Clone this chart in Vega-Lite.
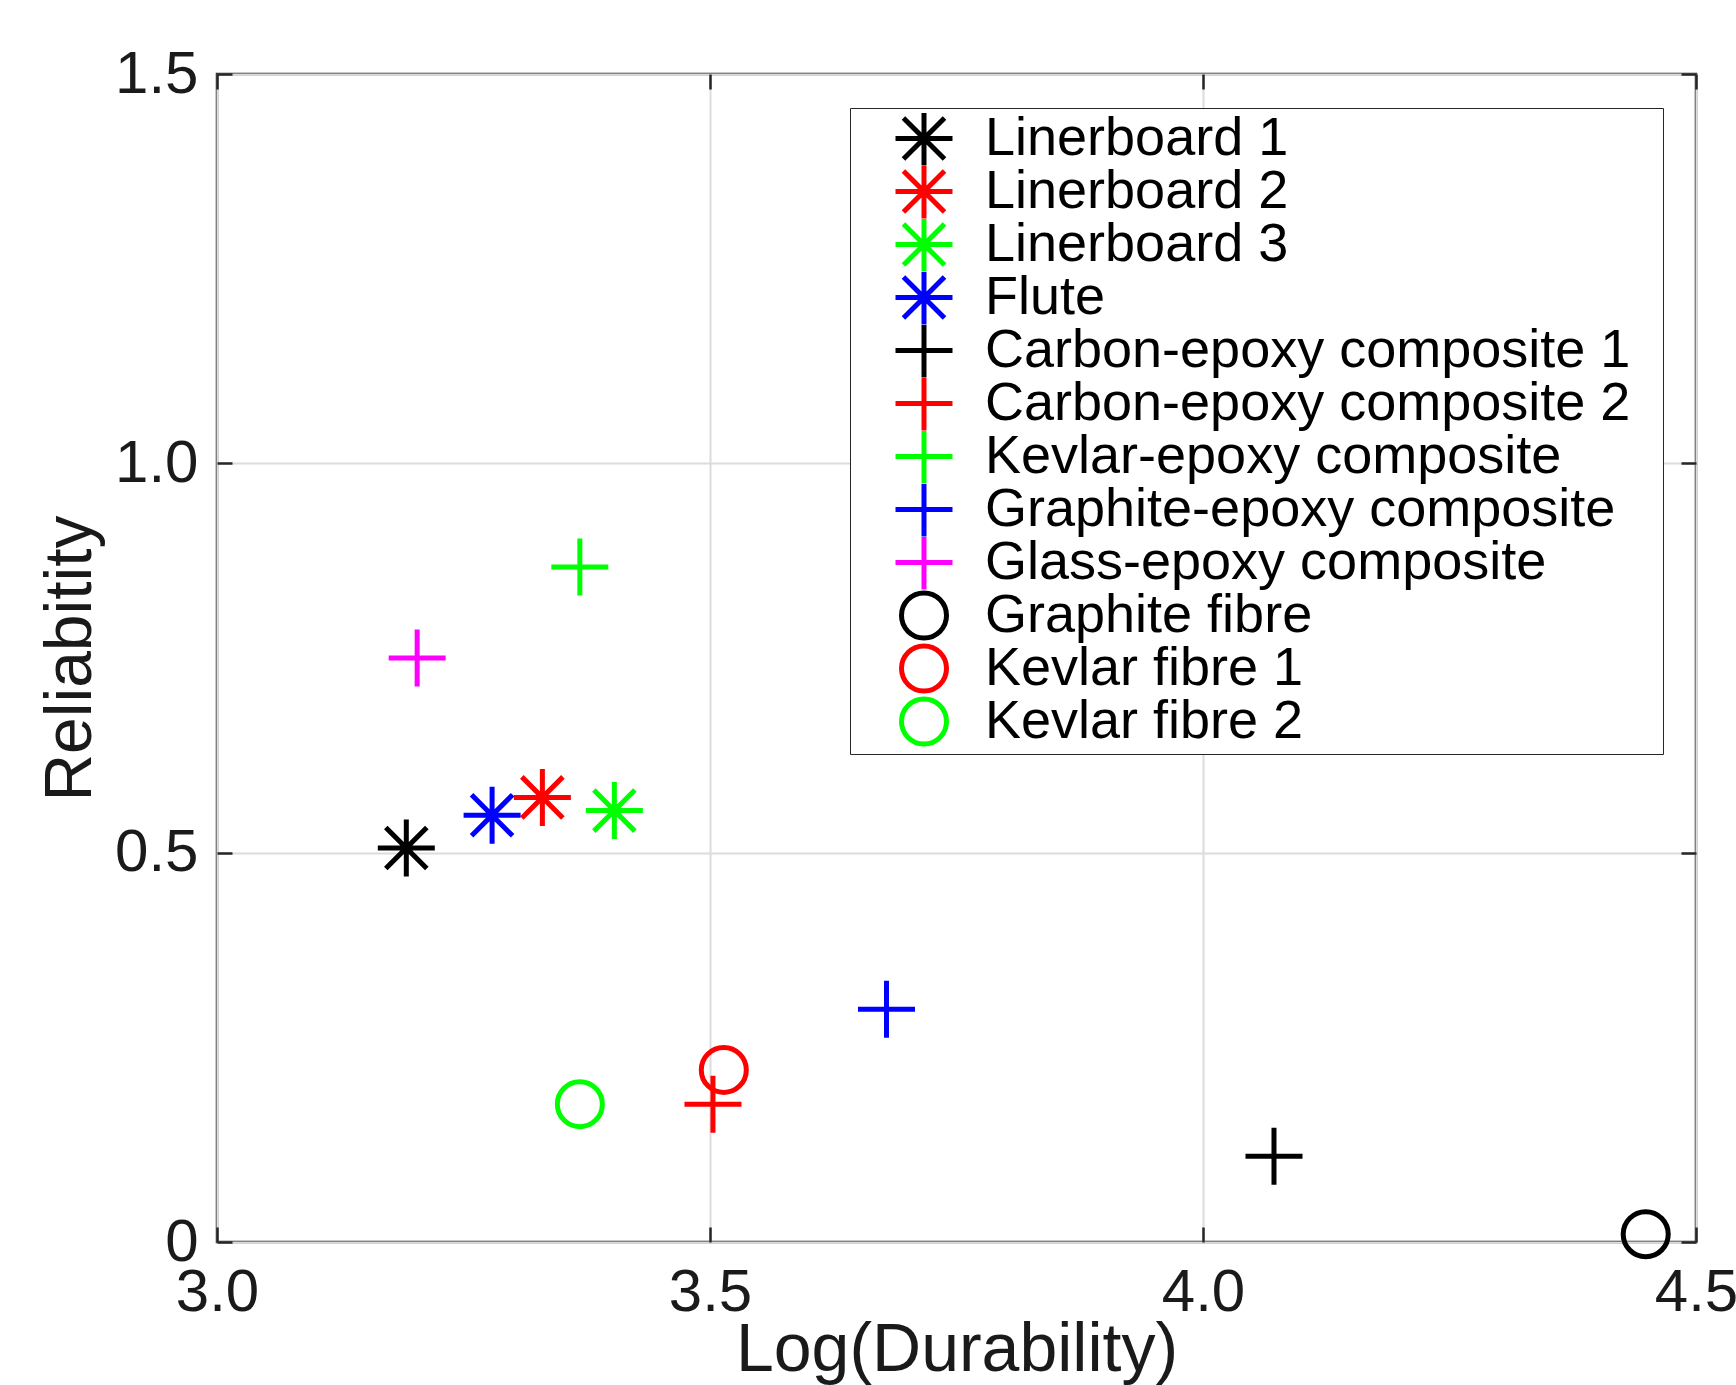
{
  "$schema": "https://vega.github.io/schema/vega-lite/v6.json",
  "width": 1479,
  "height": 1168,
  "autosize": {"type": "none"},
  "padding": {"left": 217, "top": 74, "right": 40, "bottom": 143},
  "background": "white",
  "config": {
    "view": {"stroke": "#262626", "strokeWidth": 2.5},
    "font": "Liberation Sans"
  },
  "data": {
    "values": [
      {"material": "Linerboard 1", "durability": 3.192, "reliability": 0.506},
      {"material": "Linerboard 2", "durability": 3.330, "reliability": 0.571},
      {"material": "Linerboard 3", "durability": 3.403, "reliability": 0.554},
      {"material": "Flute", "durability": 3.279, "reliability": 0.548},
      {"material": "Carbon-epoxy composite 1", "durability": 4.072, "reliability": 0.110},
      {"material": "Carbon-epoxy composite 2", "durability": 3.503, "reliability": 0.177},
      {"material": "Kevlar-epoxy composite", "durability": 3.368, "reliability": 0.867},
      {"material": "Graphite-epoxy composite", "durability": 3.679, "reliability": 0.299},
      {"material": "Glass-epoxy composite", "durability": 3.203, "reliability": 0.750},
      {"material": "Graphite fibre", "durability": 4.449, "reliability": 0.010},
      {"material": "Kevlar fibre 1", "durability": 3.514, "reliability": 0.221},
      {"material": "Kevlar fibre 2", "durability": 3.368, "reliability": 0.177}
    ]
  },
  "layer": [
    {
      "mark": {"type": "point", "filled": false, "strokeWidth": 5, "opacity": 1, "size": 3249},
      "encoding": {
        "x": {
          "field": "durability", "type": "quantitative",
          "scale": {"domain": [3, 4.5], "zero": false, "nice": false},
          "axis": {
            "orient": "bottom", "values": [3, 3.5, 4, 4.5], "format": ".1f",
            "title": "Log(Durability)",
            "grid": true, "gridColor": "#dcdcdc", "gridWidth": 2,
            "domain": false, "ticks": true, "tickSize": -15, "tickColor": "#262626", "tickWidth": 2.5,
            "labelFontSize": 60, "labelColor": "#1a1a1a", "labelPadding": 36, "labelFlush": false,
            "titleFontSize": 68, "titleFontWeight": "normal", "titleColor": "#1a1a1a", "titlePadding": -6
          }
        },
        "y": {
          "field": "reliability", "type": "quantitative",
          "scale": {"domain": [0, 1.5], "zero": false, "nice": false},
          "axis": {
            "orient": "left", "values": [0, 0.5, 1, 1.5],
            "labelExpr": "datum.value == 0 ? '0' : format(datum.value, '.1f')",
            "title": "Reliabitity",
            "grid": true, "gridColor": "#dcdcdc", "gridWidth": 2,
            "domain": false, "ticks": true, "tickSize": -15, "tickColor": "#262626", "tickWidth": 2.5,
            "labelFontSize": 60, "labelColor": "#1a1a1a", "labelPadding": 34, "labelFlush": false,
            "titleFontSize": 66, "titleFontWeight": "normal", "titleColor": "#1a1a1a", "titlePadding": 10
          }
        },
        "color": {
          "field": "material", "type": "nominal",
          "scale": {
            "domain": ["Linerboard 1", "Linerboard 2", "Linerboard 3", "Flute", "Carbon-epoxy composite 1", "Carbon-epoxy composite 2", "Kevlar-epoxy composite", "Graphite-epoxy composite", "Glass-epoxy composite", "Graphite fibre", "Kevlar fibre 1", "Kevlar fibre 2"],
            "range": ["#000000", "#ff0000", "#00ff00", "#0000ff", "#000000", "#ff0000", "#00ff00", "#0000ff", "#ff00ff", "#000000", "#ff0000", "#00ff00"]
          },
          "legend": {
            "title": null, "orient": "none", "legendX": 633, "legendY": 34,
            "padding": 5, "strokeColor": "#262626", "fillColor": "white",
            "symbolSize": 3249, "symbolStrokeWidth": 5, "symbolOffset": 38,
            "labelFontSize": 54, "labelFont": "Liberation Sans", "labelColor": "black",
            "labelOffset": 30, "rowPadding": -2, "gridAlign": "all", "clipHeight": 51, "labelLimit": 1000,
            "labelExpr": "datum.label + '\u2002\u200b'",
            "encode": {
              "legend": {"update": {"strokeWidth": {"value": 2.5}}}
            }
          }
        },
        "shape": {
          "field": "material", "type": "nominal",
          "scale": {
            "domain": ["Linerboard 1", "Linerboard 2", "Linerboard 3", "Flute", "Carbon-epoxy composite 1", "Carbon-epoxy composite 2", "Kevlar-epoxy composite", "Graphite-epoxy composite", "Glass-epoxy composite", "Graphite fibre", "Kevlar fibre 1", "Kevlar fibre 2"],
            "range": [
              "M-1,0L1,0M0,-1L0,1M-0.72,-0.72L0.72,0.72M-0.72,0.72L0.72,-0.72",
              "M-1,0L1,0M0,-1L0,1M-0.72,-0.72L0.72,0.72M-0.72,0.72L0.72,-0.72",
              "M-1,0L1,0M0,-1L0,1M-0.72,-0.72L0.72,0.72M-0.72,0.72L0.72,-0.72",
              "M-1,0L1,0M0,-1L0,1M-0.72,-0.72L0.72,0.72M-0.72,0.72L0.72,-0.72",
              "M-1,0L1,0M0,-1L0,1",
              "M-1,0L1,0M0,-1L0,1",
              "M-1,0L1,0M0,-1L0,1",
              "M-1,0L1,0M0,-1L0,1",
              "M-1,0L1,0M0,-1L0,1",
              "M0.79,0A0.79,0.79 0 1,1 -0.79,0A0.79,0.79 0 1,1 0.79,0Z",
              "M0.79,0A0.79,0.79 0 1,1 -0.79,0A0.79,0.79 0 1,1 0.79,0Z",
              "M0.79,0A0.79,0.79 0 1,1 -0.79,0A0.79,0.79 0 1,1 0.79,0Z"
            ]
          },
          "legend": {
            "title": null, "orient": "none", "legendX": 633, "legendY": 34,
            "padding": 5, "strokeColor": "#262626", "fillColor": "white",
            "symbolSize": 3249, "symbolStrokeWidth": 5, "symbolOffset": 38,
            "labelFontSize": 54, "labelFont": "Liberation Sans", "labelColor": "black",
            "labelOffset": 30, "rowPadding": -2, "gridAlign": "all", "clipHeight": 51, "labelLimit": 1000,
            "labelExpr": "datum.label + '\u2002\u200b'",
            "encode": {
              "legend": {"update": {"strokeWidth": {"value": 2.5}}}
            }
          }
        }
      }
    },
    {
      "mark": {"type": "point", "opacity": 0},
      "encoding": {
        "x": {
          "field": "durability", "type": "quantitative",
          "axis": {
            "orient": "top", "values": [3, 3.5, 4, 4.5], "labels": false, "title": null,
            "grid": false, "domain": false, "ticks": true, "tickSize": -15, "tickColor": "#262626", "tickWidth": 2.5
          }
        },
        "y": {
          "field": "reliability", "type": "quantitative",
          "axis": {
            "orient": "right", "values": [0, 0.5, 1, 1.5], "labels": false, "title": null,
            "grid": false, "domain": false, "ticks": true, "tickSize": -15, "tickColor": "#262626", "tickWidth": 2.5
          }
        }
      }
    }
  ],
  "resolve": {"axis": {"x": "independent", "y": "independent"}}
}
